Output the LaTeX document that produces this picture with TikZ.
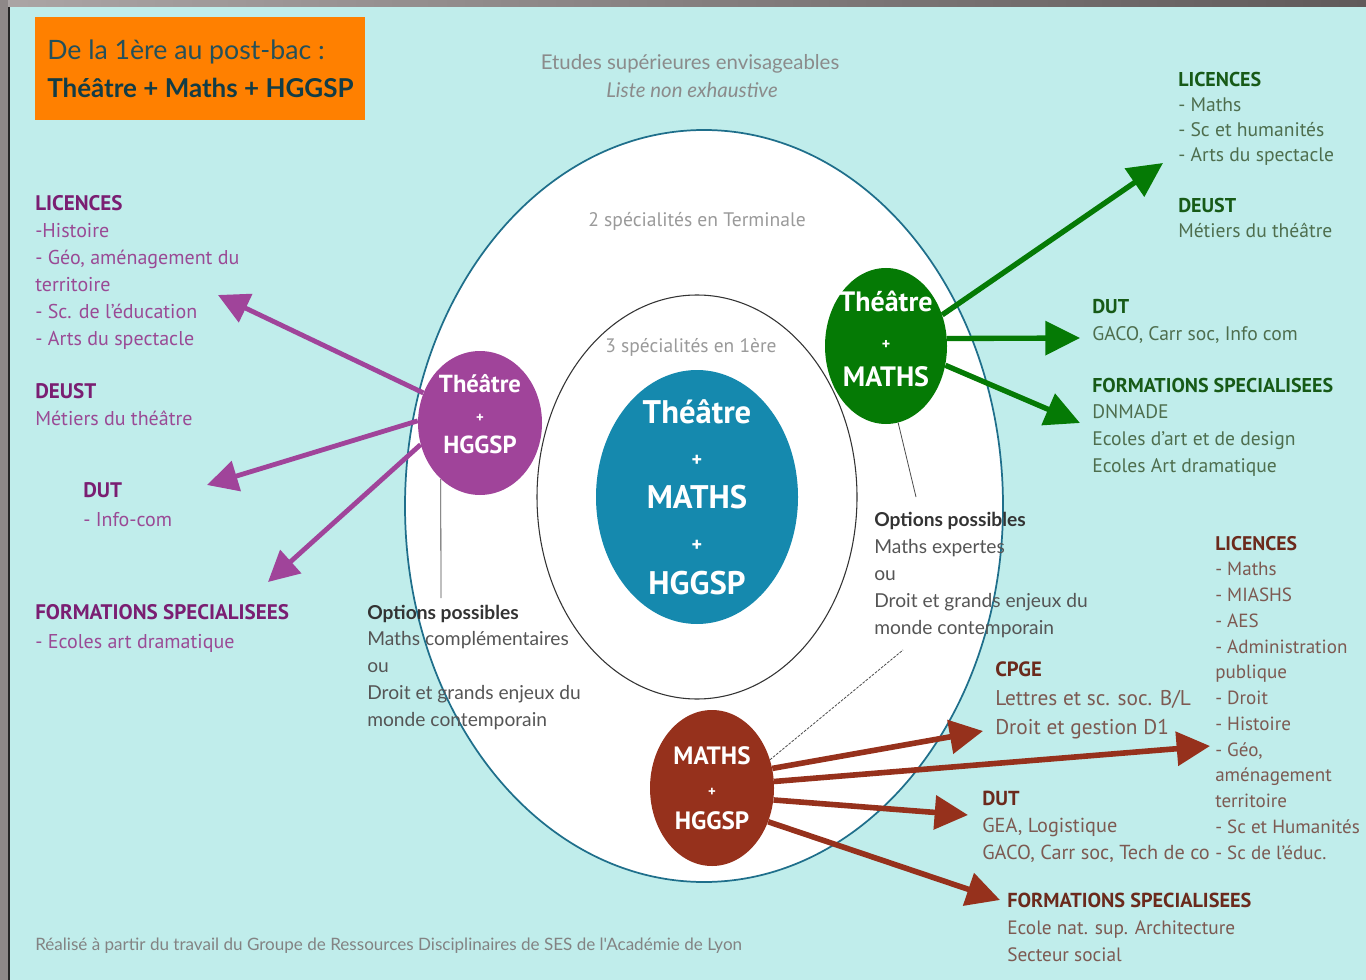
\documentclass[tikz,border=0pt]{standalone}
\usepackage{fontspec}
\setmainfont{PT Sans}
\newfontfamily\lato{Lato}
\usetikzlibrary{arrows.meta,shapes.geometric}
\definecolor{bgc}{HTML}{C0EDEB}
\definecolor{framel}{HTML}{ABA5A5}
\definecolor{framed}{HTML}{605A5A}
\definecolor{frameleft}{HTML}{8E8888}
\definecolor{orangec}{HTML}{FF8000}
\definecolor{titlec}{HTML}{24505A}
\definecolor{titleb}{HTML}{123C46}
\definecolor{outerc}{HTML}{1F6F8B}
\definecolor{bluec}{HTML}{1589AE}
\definecolor{purc}{HTML}{A0449A}
\definecolor{purh}{HTML}{7A1E72}
\definecolor{puri}{HTML}{9A4A95}
\definecolor{grnc}{HTML}{057A05}
\definecolor{grnh}{HTML}{175A17}
\definecolor{grni}{HTML}{4E6E4E}
\definecolor{brnc}{HTML}{96311C}
\definecolor{brnh}{HTML}{6B2A1C}
\definecolor{brni}{HTML}{7D5A52}
\definecolor{opth}{HTML}{333333}
\definecolor{opti}{HTML}{555555}
\definecolor{greyt}{HTML}{9A9A9A}
\begin{document}
\begin{tikzpicture}[x=0.75pt,y=-0.75pt,
  ell/.style={ellipse,inner sep=0pt,draw=none},
  ctext/.style={text=white,align=center,inner sep=0pt},
  blk/.style={anchor=base west,align=left,inner sep=0pt},
  parr/.style={draw=purc,line width=3.6pt,-{Triangle[length=23pt,width=23pt]}},
  garr/.style={draw=grnc,line width=4pt,-{Triangle[length=26pt,width=25pt]}},
  barr/.style={draw=brnc,line width=4.2pt,-{Triangle[length=25pt,width=25pt]}},
  thinl/.style={draw=black!70,line width=0.6pt}]
\useasboundingbox (0,0) rectangle (1366,980);
% background and frame
\fill[bgc] (0,0) rectangle (1366,980);
\shade[left color=framel,right color=framed] (0,0) rectangle (1366,7);
\fill[frameleft] (0,0) rectangle (8,980);
\fill[black!85] (8,7) rectangle (10,980);
% title
\fill[orangec] (35,17) rectangle (365,120);
\node[blk,font=\lato\fontsize{20}{24}\selectfont,text=titlec] (t1) at (47,60) {De la 1ère au post-bac :};
\node[blk,font=\lato\bfseries\fontsize{19.5}{24}\selectfont,text=titleb] (t2) at (47,98) {Théâtre + Maths + HGGSP};
% top labels
\node[anchor=base,font=\lato\fontsize{15.3}{20}\selectfont,text=greyt!90!black,inner sep=0pt] (et) at (690,70) {Etudes supérieures envisageables};
\node[anchor=base,font=\lato\itshape\fontsize{15.3}{20}\selectfont,text=greyt!90!black,inner sep=0pt] (ln) at (692,98) {Liste non exhaustive};
% ellipses
\draw[outerc,fill=white,line width=1.3pt] (704,506) ellipse [x radius=299,y radius=376];
\draw[black!80,line width=0.8pt] (697,497) ellipse [x radius=160,y radius=202];
\node[anchor=base,font=\fontsize{14.7}{18}\selectfont,text=greyt,inner sep=0pt] (l2) at (697,227) {2 spécialités en Terminale};
\node[anchor=base,font=\fontsize{14.6}{18}\selectfont,text=greyt,inner sep=0pt] (l3) at (691,353) {3 spécialités en 1ère};
\node[ell,fill=bluec,minimum width=151.5pt,minimum height=190.5pt] (bl) at (697,497) {};
\node[ctext,font=\bfseries\fontsize{24.5}{32}\selectfont] (blt) at (697,497) {Théâtre\\{\fontsize{15}{32}\selectfont +}\\MATHS\\{\fontsize{15}{32}\selectfont +}\\HGGSP};
\node[ell,fill=purc,minimum width=93pt,minimum height=108pt] (pu) at (480,423) {};
\node[ell,fill=grnc,minimum width=91.5pt,minimum height=117pt] (gm) at (886,346) {};
\node[ell,fill=brnc,minimum width=93pt,minimum height=117pt] (bm) at (712,788) {};
% coordinates
\coordinate (pa1) at (218,295);
\coordinate (pa2) at (207,485);
\coordinate (pa3) at (268,582);
\coordinate (ga1) at (1163,163);
\coordinate (ga2) at (1080,338);
\coordinate (ga3) at (1080,423);
\coordinate (ba1) at (983,731);
\coordinate (ba2) at (1210,746);
\coordinate (ba3) at (968,815);
\coordinate (ba4) at (1000,900);
\coordinate (o1) at (441,598);
\coordinate (o2) at (916,497);
\coordinate (o3) at (903,650);
% connectors
\draw[parr] (pu.152) -- (pa1);
\draw[parr] (pu.178) -- (pa2);
\draw[parr] (pu.200) -- (pa3);
\draw[garr] (gm.29) -- (ga1);
\draw[garr] (gm.7) -- (ga2);
\draw[garr] (gm.-18) -- (ga3);
\draw[barr] (bm.18) -- (ba1);
\draw[barr] (bm.6) -- (ba2);
\draw[barr] (bm.-11) -- (ba3);
\draw[barr] (bm.-31) -- (ba4);
\draw[thinl] (pu.235) -- (o1);
\draw[thinl] (gm.279) -- (o2);
\draw[thinl,dash pattern=on 2pt off 1pt] (bm.26) -- (o3);
% circle texts
\node[ctext,font=\bfseries\fontsize{18.5}{23}\selectfont] (put) at (480,414) {Théâtre\\{\fontsize{11}{23}\selectfont +}\\HGGSP};
\node[ctext,font=\bfseries\fontsize{21}{28}\selectfont] (gmt) at (886,339) {Théâtre\\{\fontsize{12}{28}\selectfont +}\\MATHS};
\node[ctext,font=\bfseries\fontsize{18.8}{24.4}\selectfont] (bmt) at (712,788) {MATHS\\{\fontsize{11}{24.4}\selectfont +}\\HGGSP};
% left purple blocks (anchor = baseline of last line)
\node[blk,font=\fontsize{15}{20.1}\selectfont,text=puri] (plic) at (35,345) {{\bfseries\fontsize{15.8}{20.1}\selectfont\color{purh}LICENCES}\\-Histoire\\- Géo, aménagement du\\territoire\\- Sc. de l'éducation\\- Arts du spectacle};
\node[blk,font=\fontsize{15}{20.25}\selectfont,text=puri] (pdeust) at (35,425) {{\bfseries\fontsize{15.8}{20.25}\selectfont\color{purh}DEUST}\\Métiers du théâtre};
\node[blk,font=\fontsize{15}{21.75}\selectfont,text=puri] (pdut) at (83,526) {{\bfseries\fontsize{15.8}{21.75}\selectfont\color{purh}DUT}\\- Info-com};
\node[blk,font=\fontsize{15}{21.75}\selectfont,text=puri] (pform) at (35,648) {{\bfseries\fontsize{15.8}{21.75}\selectfont\color{purh}FORMATIONS SPECIALISEES}\\- Ecoles art dramatique};
% options
\node[blk,font=\lato\fontsize{14.4}{20.06}\selectfont,text=opti] (opt1) at (367,726) {{\bfseries\color{opth}Options possibles}\\Maths complémentaires\\ou\\Droit et grands enjeux du\\monde contemporain};
\node[blk,font=\lato\fontsize{14.4}{20.25}\selectfont,text=opti] (opt2) at (874,634) {{\bfseries\color{opth}Options possibles}\\Maths expertes\\ou\\Droit et grands enjeux du\\monde contemporain};
% green blocks
\node[blk,font=\fontsize{14.7}{18.75}\selectfont,text=grni] (glic) at (1178,162) {{\bfseries\fontsize{15}{18.75}\selectfont\color{grnh}LICENCES}\\- Maths\\- Sc et humanités\\- Arts du spectacle};
\node[blk,font=\fontsize{14.7}{18.75}\selectfont,text=grni] (gdeust) at (1178,238) {{\bfseries\fontsize{15}{18.75}\selectfont\color{grnh}DEUST}\\Métiers du théâtre};
\node[blk,font=\fontsize{14.7}{20.25}\selectfont,text=grni] (gdut) at (1092,340) {{\bfseries\fontsize{15}{20.25}\selectfont\color{grnh}DUT}\\GACO, Carr soc, Info com};
\node[blk,font=\fontsize{14.7}{20}\selectfont,text=grni] (gform) at (1092,472) {{\bfseries\fontsize{15}{20}\selectfont\color{grnh}FORMATIONS SPECIALISEES}\\DNMADE\\Ecoles d'art et de design\\Ecoles Art dramatique};
% brown blocks
\node[blk,font=\fontsize{16}{21.75}\selectfont,text=brni] (cpge) at (995,734) {{\bfseries\fontsize{15.5}{21.75}\selectfont\color{brnh}CPGE}\\Lettres et sc. soc. B/L\\Droit et gestion D1};
\node[blk,font=\fontsize{15.2}{20.25}\selectfont,text=brni] (bdut) at (982,859) {{\bfseries\fontsize{15.2}{20.25}\selectfont\color{brnh}DUT}\\GEA, Logistique\\GACO, Carr soc, Tech de co};
\node[blk,font=\fontsize{14.3}{19.3}\selectfont,text=brni] (blic) at (1215,859) {{\bfseries\fontsize{14.8}{19.3}\selectfont\color{brnh}LICENCES}\\- Maths\\- MIASHS\\- AES\\- Administration\\publique\\- Droit\\- Histoire\\- Géo,\\aménagement\\territoire\\- Sc et Humanités\\- Sc de l'éduc.};
\node[blk,font=\fontsize{14.5}{20.25}\selectfont,text=brni] (bform) at (1007,961) {{\bfseries\fontsize{15.2}{20.25}\selectfont\color{brnh}FORMATIONS SPECIALISEES}\\Ecole nat. sup. Architecture\\Secteur social};
% footer
\node[blk,font=\lato\fontsize{12.8}{14}\selectfont,text=greyt!85!black] (foot) at (35,950) {Réalisé à partir du travail du Groupe de Ressources Disciplinaires de SES de l'Académie de Lyon};
\end{tikzpicture}
\end{document}
